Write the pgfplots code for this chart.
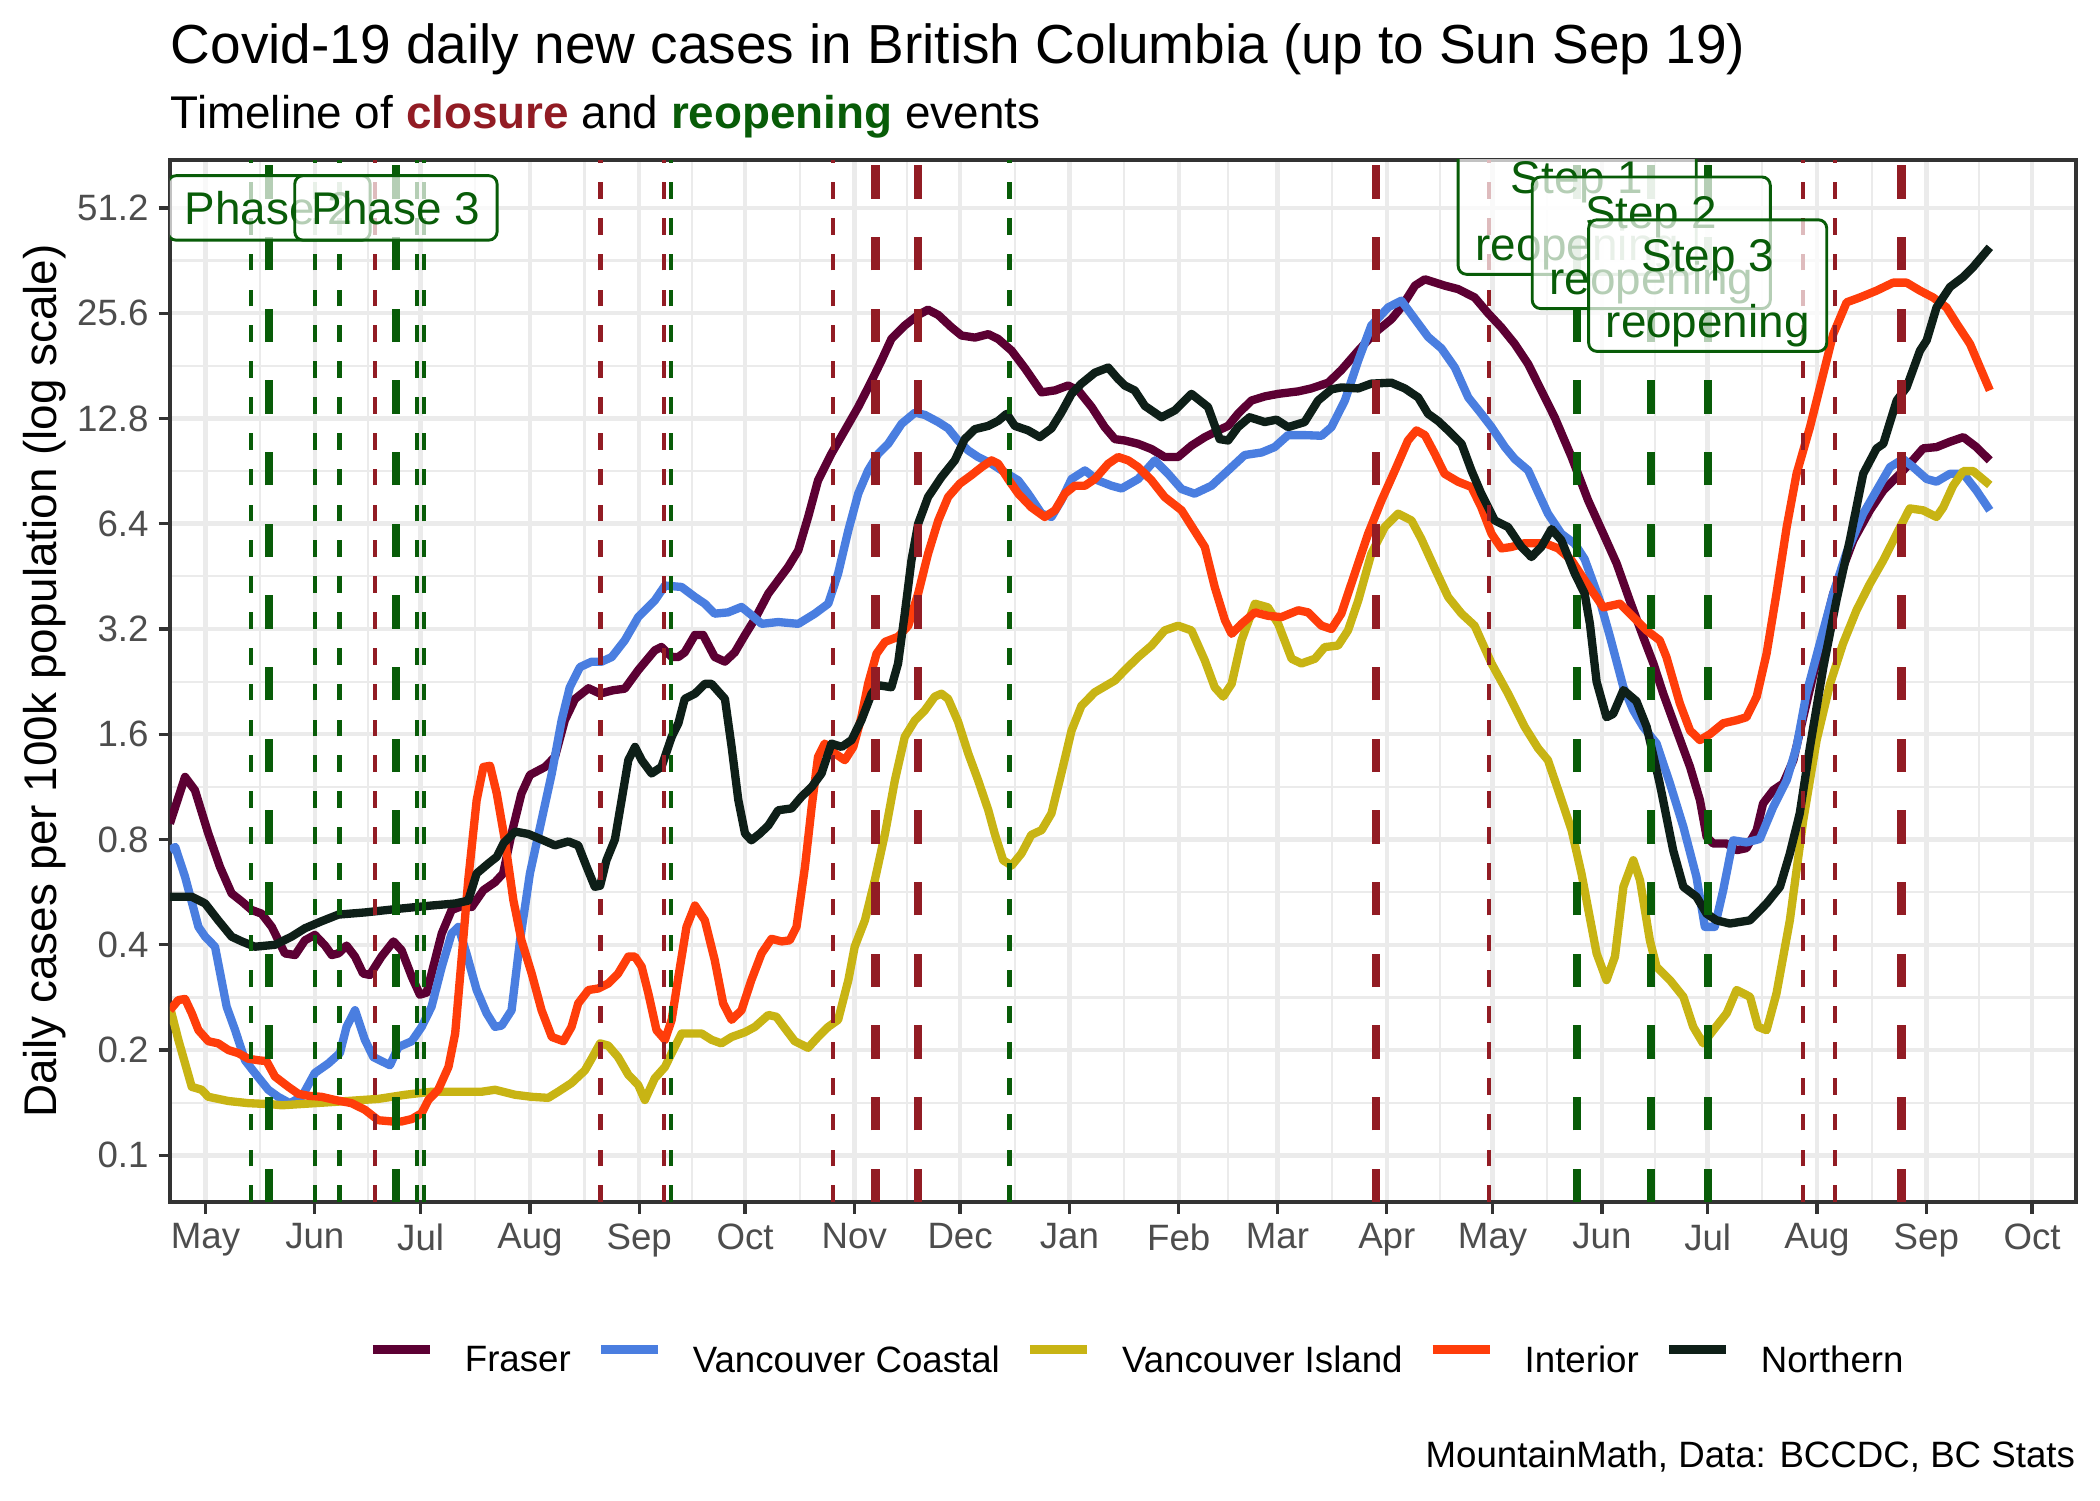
\documentclass[border=0pt]{standalone}
\usepackage{fontspec}
\setmainfont{Liberation Sans}
\usepackage{pgfplots}
\pgfplotsset{compat=1.18}
\definecolor{fraser}{HTML}{5C0033}
\definecolor{vcoastal}{HTML}{4A7EE0}
\definecolor{visland}{HTML}{C8B414}
\definecolor{interior}{HTML}{FF3D0A}
\definecolor{northern}{HTML}{0E1F18}
\definecolor{closure}{HTML}{921C24}
\definecolor{reopen}{HTML}{085C08}
\definecolor{gridc}{HTML}{EBEBEB}
\definecolor{grey20}{HTML}{333333}
\definecolor{grey30}{HTML}{4D4D4D}
\tikzset{labelbox/.style={draw=reopen, line width=0.7pt, fill=white, fill opacity=0.7, text opacity=1, draw opacity=1, rounded corners=2pt, text=reopen, font=\fontsize{11}{16}\selectfont, inner xsep=4.1pt, inner ysep=3.7pt},
  steplabel/.style={labelbox, align=center, inner ysep=1pt}}
\begin{document}
\begin{tikzpicture}
\useasboundingbox (0,0) rectangle (504pt,360pt);
\begin{axis}[
  at={(40.8pt,71.5pt)}, anchor=south west,
  scale only axis, width=457.4pt, height=250.1pt,
  xmin=-10.07, xmax=530.4,
  ymode=log, ymin=0.0735, ymax=70.2,
  xtick={0,31,61,92,123,153,184,214,245,276,304,335,365,396,426,457,488,518},
  xticklabels={May,Jun,Jul,Aug,Sep,Oct,Nov,Dec,Jan,Feb,Mar,Apr,May,Jun,Jul,Aug,Sep,Oct},
  minor xtick={15.5,46,76.5,107.5,138,168.5,199,229.5,260.5,290,319.5,350,380.5,411,441.5,472.5,503},
  ytick={0.1,0.2,0.4,0.8,1.6,3.2,6.4,12.8,25.6,51.2},
  yticklabels={0.1,0.2,0.4,0.8,1.6,3.2,6.4,12.8,25.6,51.2},
  minor ytick={0.1414,0.2828,0.5657,1.1314,2.2627,4.5255,9.051,18.102,36.204},
  grid=both,
  major grid style={gridc, line width=1.07pt},
  minor grid style={gridc, line width=0.53pt},
  axis line style={grey20, line width=0.8pt},
  tick align=outside, tick pos=left,
  major tick length=2.75pt, minor tick length=0pt,
  tick style={grey20, line width=0.8pt},
  ticklabel style={font=\fontsize{8.8}{10}\selectfont, text=grey30, inner sep=0pt},
  yticklabel style={anchor=east, xshift=-2.2pt},
  xticklabel style={anchor=north, yshift=-2.2pt},
  ylabel={Daily cases per 100k population (log scale)},
  every axis y label/.style={at={(axis description cs:-0.0597,0.5)}, rotate=90, anchor=base, font=\fontsize{11}{13}\selectfont, inner sep=0pt},
  legend style={at={(axis description cs:0.5068,-0.1531)}, anchor=center, draw=none, fill=none, font=\fontsize{8.8}{10}\selectfont, inner sep=0pt, outer sep=0pt, nodes={inner sep=0pt},
    /tikz/every odd column/.append style={column sep=7.3pt},
    /tikz/every even column/.append style={column sep=6.1pt}},
  legend columns=-1,
  legend image code/.code={\draw[#1, line width=2.2pt] (0pt,3.15pt) -- (13.7pt,3.15pt);},
  every axis plot/.append style={line join=round, no markers},
]
\addplot[fraser, line width=2pt] coordinates {(-10.1,0.889) (-5.8,1.208) (-3.0,1.107) (0.8,0.832) (4.1,0.668) (7.4,0.561) (10.3,0.532) (13.1,0.503) (15.9,0.491) (18.8,0.450) (22.5,0.378) (25.4,0.374) (28.2,0.412) (31.0,0.427) (33.9,0.398) (35.8,0.374) (37.7,0.378) (40.0,0.398) (42.4,0.370) (44.7,0.331) (46.6,0.328) (49.9,0.370) (53.3,0.409) (55.6,0.386) (58.5,0.324) (60.8,0.288) (62.7,0.292) (64.1,0.331) (67.0,0.431) (69.8,0.503) (73.1,0.518) (75.5,0.513) (78.8,0.573) (82.1,0.604) (84.4,0.640) (86.8,0.832) (89.6,1.083) (92.0,1.224) (96.3,1.290) (99.1,1.379) (101.9,1.755) (104.8,2.019) (108.6,2.166) (111.9,2.091) (115.6,2.138) (118.9,2.160) (122.7,2.439) (127.4,2.780) (129.3,2.843) (132.2,2.661) (134.1,2.661) (135.9,2.744) (138.8,3.077) (141.1,3.077) (144.4,2.661) (147.3,2.581) (150.1,2.744) (153.0,3.077) (155.8,3.418) (159.6,4.04) (162.4,4.41) (165.2,4.81) (168.1,5.37) (170.9,6.69) (173.7,8.51) (177.5,10.15) (181.3,11.83) (185.1,13.8) (188.9,16.4) (191.7,18.75) (194.5,21.6) (198.3,23.6) (202.1,25.3) (204.9,26.2) (207.8,25.3) (211.6,23.3) (214.4,22.1) (218.2,21.8) (222.0,22.3) (224.8,21.6) (228.6,20.0) (232.4,17.8) (237.1,15.2) (240.9,15.4) (244.6,15.9) (247.5,15.4) (251.3,13.8) (255.0,12.09) (257.9,11.17) (260.7,11.07) (264.5,10.83) (268.3,10.46) (272.0,9.93) (275.8,9.93) (279.6,10.70) (283.4,11.32) (287.2,11.83) (290.0,12.19) (292.8,13.2) (296.6,14.4) (300.4,14.8) (304.2,15.05) (309.9,15.3) (313.6,15.6) (318.4,16.2) (322.1,17.6) (326.9,20.0) (331.6,22.5) (336.3,24.6) (339.1,26.6) (343.0,30.7) (345.8,32.0) (351.4,30.7) (355.2,30.0) (359.9,28.4) (363.7,25.6) (367.5,23.3) (371.3,20.9) (375.1,18.3) (378.8,15.4) (382.6,12.9) (387.4,9.93) (392.1,7.46) (396.4,5.99) (400.2,4.92) (403.9,3.86) (407.7,3.04) (410.6,2.55) (413.4,2.09) (417.2,1.64) (421.0,1.29) (423.8,1.037) (425.7,0.814) (427.6,0.779) (431.4,0.779) (434.2,0.746) (437.0,0.756) (439.9,0.851) (441.7,1.014) (444.6,1.107) (447.4,1.157) (450.3,1.349) (453.1,1.79) (456.9,2.60) (461.6,4.04) (467.3,5.74) (472.0,6.99) (475.8,7.97) (479.6,8.70) (483.3,9.50) (487.1,10.51) (490.9,10.6) (494.7,10.98) (498.5,11.32) (502.2,10.6) (506,9.71)};
\addlegendentry{Fraser}
\addplot[vcoastal, line width=2pt] coordinates {(-10.1,0.746) (-8.6,0.762) (-5.8,0.626) (-2.0,0.450) (-0.1,0.422) (2.7,0.395) (6.0,0.266) (8.4,0.228) (11.2,0.187) (14.0,0.172) (17.8,0.154) (20.6,0.147) (23.9,0.141) (27.3,0.147) (31.0,0.172) (34.8,0.183) (38.1,0.196) (40.0,0.233) (42.4,0.260) (45.2,0.214) (47.6,0.191) (49.9,0.186) (52.3,0.181) (54.7,0.204) (58.5,0.212) (61.3,0.233) (64.1,0.266) (67.0,0.346) (69.8,0.431) (71.7,0.450) (74.0,0.378) (76.9,0.297) (79.7,0.255) (82.1,0.233) (84.0,0.235) (86.8,0.260) (89.2,0.412) (92.0,0.640) (95.3,0.909) (98.2,1.236) (101.0,1.755) (103.3,2.18) (106.2,2.49) (109.5,2.58) (112.3,2.58) (115.2,2.66) (118.9,2.97) (122.7,3.46) (127.4,3.86) (130.3,4.26) (135.0,4.22) (138.8,3.95) (141.6,3.78) (144.4,3.54) (148.2,3.57) (152.0,3.70) (154.8,3.51) (157.7,3.31) (162.4,3.35) (168.1,3.31) (172.8,3.54) (176.6,3.78) (179.4,4.61) (182.3,6.13) (185.1,7.80) (187.9,9.09) (190.8,10.15) (193.6,10.83) (197.4,12.36) (201.2,13.3) (204.0,13.1) (207.8,12.5) (210.6,11.99) (213.4,11.07) (216.3,10.37) (219.1,9.93) (222.9,9.50) (226.7,8.97) (230.5,8.51) (233.3,7.80) (237.1,6.84) (239.9,6.69) (242.7,7.46) (245.6,8.59) (249.4,9.09) (253.1,8.51) (256.9,8.22) (259.8,8.07) (264.5,8.59) (269.2,9.71) (273.0,8.89) (276.8,8.04) (280.5,7.80) (285.3,8.22) (290.0,9.09) (294.7,10.06) (299.5,10.23) (303.2,10.6) (307.0,11.47) (311.7,11.47) (316.5,11.42) (319.3,12.09) (323.1,14.4) (326.9,18.75) (330.6,23.6) (335.4,26.6) (339.1,27.8) (343.0,24.6) (346.7,21.9) (350.5,20.3) (354.3,17.9) (358.1,14.7) (361.8,13.2) (364.7,12.09) (368.5,10.6) (371.3,9.80) (375.1,9.09) (377.9,7.87) (380.7,6.84) (384.5,5.99) (388.3,5.61) (391.1,5.07) (395.4,3.86) (398.3,3.04) (402.1,2.18) (404.9,1.874) (407.7,1.68) (411.5,1.505) (415.3,1.157) (419.1,0.870) (422.8,0.626) (425.2,0.450) (428.0,0.450) (430.4,0.573) (433.2,0.796) (437.0,0.785) (440.8,0.803) (444.6,0.992) (448.4,1.182) (451.2,1.472) (454.0,2.09) (457.8,2.91) (461.6,4.04) (465.4,5.30) (470.1,6.84) (473.9,7.97) (477.7,9.29) (481.4,9.80) (484.3,9.29) (488.1,8.59) (490.9,8.44) (494.7,8.89) (498.5,8.89) (502.2,7.97) (506,6.99)};
\addlegendentry{Vancouver Coastal}
\addplot[visland, line width=2pt] coordinates {(-10.1,0.266) (-7.7,0.214) (-3.9,0.157) (-1.1,0.154) (0.8,0.147) (6.5,0.143) (12.1,0.141) (18.8,0.140) (21.6,0.139) (26.3,0.140) (35.8,0.142) (49.0,0.145) (56.6,0.149) (64.1,0.152) (68.9,0.152) (78.3,0.152) (82.1,0.154) (87.8,0.149) (92.5,0.147) (97.2,0.146) (100.0,0.152) (103.8,0.161) (107.6,0.175) (109.5,0.189) (111.9,0.209) (114.2,0.206) (117.0,0.191) (119.9,0.170) (122.7,0.159) (124.6,0.144) (127.4,0.166) (130.3,0.179) (132.2,0.196) (135.0,0.223) (140.7,0.223) (143.5,0.214) (146.3,0.209) (149.2,0.218) (153.0,0.225) (155.8,0.233) (159.6,0.252) (161.9,0.249) (164.3,0.231) (167.1,0.212) (170.9,0.203) (173.7,0.218) (176.6,0.233) (179.4,0.244) (182.3,0.317) (184.1,0.395) (187.0,0.470) (189.8,0.612) (192.7,0.832) (195.5,1.182) (198.3,1.573) (201.2,1.755) (204.0,1.874) (206.8,2.05) (208.7,2.09) (210.6,2.02) (213.4,1.74) (216.3,1.41) (219.1,1.182) (222.0,0.970) (223.8,0.832) (226.2,0.698) (228.6,0.674) (231.4,0.730) (234.2,0.825) (237.1,0.851) (239.9,0.950) (242.7,1.236) (245.6,1.64) (248.4,1.93) (252.2,2.11) (257.9,2.28) (260.7,2.44) (264.5,2.66) (268.3,2.87) (272.0,3.17) (275.8,3.27) (279.6,3.17) (283.4,2.60) (286.2,2.18) (288.6,2.05) (291.0,2.23) (293.8,2.97) (297.6,3.78) (301.3,3.69) (304.2,3.31) (308.0,2.63) (310.8,2.55) (314.6,2.63) (317.4,2.84) (321.2,2.87) (324.0,3.17) (326.9,3.86) (330.6,5.25) (334.4,6.26) (338.2,6.84) (342.0,6.54) (344.8,5.79) (348.6,4.77) (352.4,3.95) (356.2,3.54) (359.9,3.27) (364.7,2.55) (369.4,2.09) (374.1,1.68) (377.9,1.459) (380.7,1.349) (383.6,1.107) (387.4,0.851) (390.2,0.640) (394.5,0.378) (397.3,0.317) (399.7,0.370) (402.1,0.586) (404.9,0.698) (406.8,0.612) (409.6,0.412) (411.5,0.346) (415.3,0.317) (419.1,0.284) (421.9,0.233) (424.7,0.209) (427.6,0.228) (431.4,0.255) (434.2,0.297) (438.0,0.284) (440.3,0.233) (442.7,0.228) (445.5,0.290) (449.3,0.470) (453.1,0.909) (456.9,1.54) (460.7,2.23) (464.4,2.91) (468.2,3.62) (472.0,4.31) (475.8,5.03) (479.6,5.99) (483.3,7.08) (487.1,6.99) (490.9,6.69) (492.8,7.13) (495.6,8.22) (498.5,9.05) (501.3,9.05) (506,8.26)};
\addlegendentry{Vancouver Island}
\addplot[interior, line width=2pt] coordinates {(-10.1,0.260) (-7.7,0.278) (-5.8,0.280) (-3.9,0.255) (-2.0,0.228) (0.8,0.212) (3.6,0.209) (6.5,0.200) (9.3,0.196) (12.1,0.189) (15.0,0.187) (17.3,0.186) (19.7,0.168) (23.5,0.157) (26.3,0.150) (29.2,0.148) (32.9,0.147) (36.7,0.144) (41.4,0.141) (45.2,0.135) (49.0,0.126) (52.8,0.125) (55.6,0.125) (58.5,0.127) (61.3,0.132) (63.2,0.144) (66.0,0.154) (68.9,0.179) (70.8,0.223) (72.6,0.362) (74.5,0.612) (76.9,1.037) (78.8,1.29) (80.7,1.30) (82.6,1.083) (84.9,0.796) (87.3,0.537) (89.6,0.412) (92.5,0.331) (95.3,0.260) (98.2,0.218) (101.5,0.212) (103.8,0.233) (105.7,0.272) (108.6,0.297) (111.4,0.300) (114.2,0.310) (117.0,0.331) (119.9,0.370) (121.8,0.370) (123.7,0.346) (125.6,0.290) (127.9,0.228) (130.3,0.214) (132.2,0.244) (134.1,0.324) (136.4,0.450) (138.8,0.518) (141.6,0.470) (144.4,0.362) (146.8,0.272) (149.2,0.244) (152.0,0.260) (154.8,0.317) (157.7,0.378) (160.5,0.416) (163.4,0.409) (165.7,0.412) (167.6,0.450) (170.0,0.668) (171.9,0.992) (173.7,1.379) (175.6,1.505) (178.5,1.41) (181.3,1.349) (183.7,1.472) (186.0,1.79) (187.9,2.23) (190.3,2.72) (192.7,2.94) (196.4,3.04) (199.3,3.27) (202.1,4.04) (204.9,5.25) (207.8,6.54) (210.6,7.63) (213.9,8.33) (217.2,8.81) (220.1,9.29) (222.9,9.71) (224.8,9.50) (227.6,8.59) (230.5,7.80) (234.2,7.13) (238.0,6.69) (240.9,6.99) (243.7,7.80) (246.5,8.22) (249.4,8.22) (252.2,8.59) (256.0,9.50) (258.8,9.93) (261.7,9.71) (264.5,9.29) (268.3,8.51) (272.0,7.63) (276.8,6.99) (283.4,5.49) (286.2,4.22) (289.1,3.39) (291.0,3.10) (293.8,3.31) (297.6,3.57) (301.3,3.49) (305.1,3.46) (309.9,3.62) (312.7,3.57) (316.5,3.27) (319.3,3.20) (322.1,3.54) (325.9,4.61) (329.7,5.99) (333.5,7.46) (337.3,9.09) (341.0,11.07) (343.4,11.83) (345.8,11.47) (348.6,10.15) (351.4,8.89) (355.2,8.44) (359.0,8.15) (361.8,7.13) (364.7,5.99) (367.5,5.44) (370.3,5.49) (374.1,5.63) (379.8,5.63) (383.6,5.44) (387.4,5.03) (391.1,4.41) (396.4,3.69) (401.1,3.78) (404.9,3.46) (408.7,3.17) (412.4,2.97) (414.3,2.66) (418.1,1.96) (421.0,1.64) (423.8,1.54) (426.6,1.60) (430.4,1.72) (434.2,1.755) (437.0,1.79) (439.9,2.05) (442.7,2.72) (445.5,4.04) (448.4,6.26) (451.2,8.89) (455.0,12.09) (458.8,17.2) (461.6,22.3) (465.4,27.5) (469.2,28.4) (473.9,29.7) (478.6,31.3) (482.4,31.3) (486.2,29.7) (489.9,28.4) (493.7,26.6) (496.6,23.9) (500.4,20.9) (506,15.4)};
\addlegendentry{Interior}
\addplot[northern, line width=2pt] coordinates {(-10.1,0.549) (-3.9,0.549) (-0.1,0.525) (3.6,0.470) (7.4,0.422) (10.3,0.409) (14.0,0.395) (19.7,0.400) (24.4,0.422) (28.2,0.446) (32.9,0.467) (37.7,0.488) (45.2,0.495) (54.7,0.507) (64.1,0.518) (70.8,0.525) (74.5,0.535) (76.9,0.640) (80.2,0.683) (82.6,0.714) (84.5,0.780) (87.8,0.843) (91.5,0.830) (95.3,0.800) (99.1,0.770) (102.9,0.790) (105.7,0.770) (108.1,0.668) (110.4,0.586) (111.9,0.590) (113.7,0.698) (116.1,0.800) (118.0,1.037) (119.9,1.349) (121.8,1.472) (123.7,1.349) (126.5,1.236) (129.3,1.29) (132.2,1.573) (134.1,1.72) (135.9,2.02) (138.8,2.09) (141.6,2.23) (143.5,2.23) (147.3,2.02) (149.2,1.472) (151.1,1.037) (153.0,0.832) (154.8,0.796) (157.2,0.832) (159.6,0.877) (162.4,0.970) (166.2,0.982) (169.0,1.06) (171.9,1.131) (174.7,1.236) (177.5,1.505) (180.4,1.472) (183.2,1.54) (186.0,1.755) (188.9,2.09) (190.8,2.21) (194.5,2.18) (196.4,2.55) (198.3,3.54) (200.2,5.03) (202.1,6.4) (204.9,7.63) (208.7,8.70) (212.5,9.71) (215.3,11.17) (218.2,11.93) (222.0,12.19) (224.8,12.6) (227.2,13.2) (229.5,12.19) (233.3,11.83) (236.6,11.32) (239.9,11.99) (242.7,13.3) (245.6,15.05) (248.4,16.1) (252.2,17.3) (256.0,17.9) (258.8,16.6) (260.7,15.9) (263.5,15.4) (266.4,13.9) (271.1,12.9) (274.9,13.5) (279.6,15.05) (284.3,13.8) (287.6,11.17) (290.0,11.07) (292.8,12.09) (296.1,12.9) (300.4,12.5) (303.7,12.7) (307.0,12.09) (311.7,12.5) (315.5,14.4) (319.3,15.5) (322.1,15.7) (326.9,15.6) (330.6,16.1) (336.3,16.2) (340.1,15.6) (343.9,14.7) (346.7,13.2) (349.5,12.6) (352.4,11.83) (356.2,10.83) (359.0,9.09) (361.8,7.80) (365.6,6.54) (369.4,6.26) (373.2,5.49) (376.0,5.14) (378.8,5.49) (381.7,6.18) (384.5,5.74) (388.3,4.61) (391.1,4.04) (392.6,3.31) (394.5,2.26) (397.3,1.79) (399.2,1.83) (402.1,2.14) (405.8,1.99) (408.7,1.68) (412.4,1.157) (416.2,0.746) (419.1,0.586) (422.8,0.549) (425.7,0.491) (428.5,0.470) (432.3,0.460) (438.0,0.470) (442.7,0.525) (446.5,0.586) (449.3,0.730) (452.1,0.950) (455.0,1.472) (458.8,2.49) (462.5,3.86) (466.3,5.74) (470.1,8.89) (473.9,10.51) (475.8,10.83) (479.6,14.4) (482.4,15.7) (486.2,20.0) (488.1,21.4) (490.9,26.6) (494.7,30.4) (498.5,32.5) (501.3,34.7) (506,39.5)};
\addlegendentry{Northern}
% thin reopening events
\pgfplotsinvokeforeach{13,31,38,60,62,132,228}{
  \addplot[reopen, line width=1pt, dash pattern=on 4pt off 4.6pt, forget plot] coordinates {(#1,0.0735) (#1,70.2)};
}
% thin closure events
\pgfplotsinvokeforeach{48,112,130,178,364,453,462}{
  \addplot[closure, line width=1pt, dash pattern=on 4pt off 4.6pt, forget plot] coordinates {(#1,0.0735) (#1,70.2)};
}
% thick reopening events
\pgfplotsinvokeforeach{18,54,389,410,426}{
  \addplot[reopen, line width=2pt, dash pattern=on 8pt off 9.2pt, forget plot] coordinates {(#1,0.0735) (#1,70.2)};
}
% thick closure events
\pgfplotsinvokeforeach{190,202,332,481}{
  \addplot[closure, line width=2pt, dash pattern=on 8pt off 9.2pt, forget plot] coordinates {(#1,0.0735) (#1,70.2)};
}
\node[labelbox] at (axis cs:18,51.2) {Phase 2};
\node[labelbox] at (axis cs:54,51.2) {Phase 3};
\node[steplabel] at (axis cs:389,51) {\rule{0pt}{11.3pt}Step 1\\reopening};
\node[steplabel] at (axis cs:410,40.7) {\rule{0pt}{11.3pt}Step 2\\reopening};
\node[steplabel] at (axis cs:426,30.7) {\rule{0pt}{11.3pt}Step 3\\reopening};
\end{axis}
\node[anchor=base west, inner sep=0pt, font=\fontsize{13.2}{15}\selectfont] at (40.8pt,344.8pt) {Covid-19 daily new cases in British Columbia (up to Sun Sep 19)};
\node[anchor=base west, inner sep=0pt, font=\fontsize{11}{13}\selectfont] at (40.8pt,329.2pt) {Timeline of \textbf{\textcolor{closure}{closure}} and \textbf{\textcolor{reopen}{reopening}} events};
\node[anchor=base east, inner sep=0pt, font=\fontsize{8.8}{10}\selectfont] at (498.2pt,7.7pt) {MountainMath, Data: BCCDC, BC Stats};
\end{tikzpicture}
\end{document}
